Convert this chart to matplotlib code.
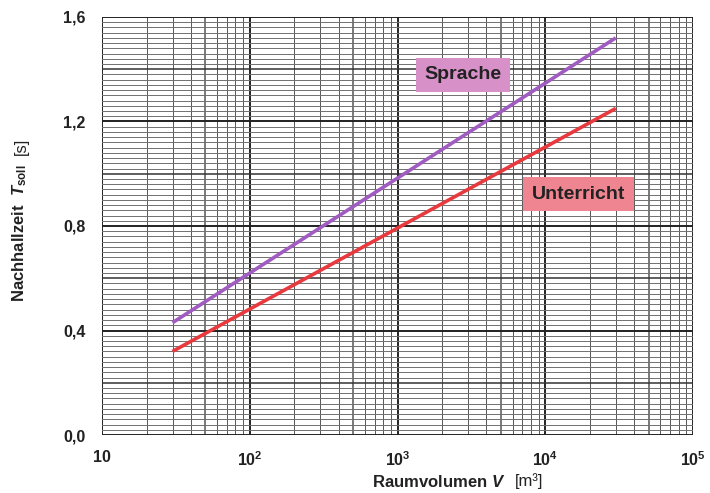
import matplotlib
matplotlib.use("Agg")
import matplotlib.pyplot as plt
from matplotlib.ticker import FixedLocator, NullFormatter

plt.rcParams['font.family'] = ['Liberation Sans', 'DejaVu Sans']
plt.rcParams['mathtext.fontset'] = 'custom'
plt.rcParams['mathtext.rm'] = 'Liberation Sans:bold'
plt.rcParams['mathtext.it'] = 'Liberation Sans:bold:italic'
plt.rcParams['mathtext.bf'] = 'Liberation Sans:bold'

# data (end points of the straight lines)
volumen = [30, 30000]
sprache = [0.43, 1.52]
unterricht = [0.32, 1.25]

x_ticks = [10, 100, 1000, 10000, 100000]
x_labels = ['10', '$10^2$', '$10^3$', '$10^4$', '$10^5$']
y_ticks = [0.0, 0.4, 0.8, 1.2, 1.6]
y_labels = ['0,0', '0,4', '0,8', '1,2', '1,6']

fig = plt.figure(figsize=(7.1, 4.93), dpi=100)
ax = fig.add_axes([0.1437, 0.1176, 0.8324, 0.848])

ax.set_xscale('log')
ax.set_xlim(10, 100000)
ax.set_ylim(0, 1.6)

# grid: decades, fives, other minor
for dec in [10, 100, 1000, 10000]:
    for m in range(2, 10):
        lw = 1.1 if m == 5 else 0.7
        ax.axvline(dec * m, color='#555555', lw=lw, zorder=1)
for d in x_ticks:
    ax.axvline(d, color='#222222', lw=1.4, zorder=1)
for i in range(81):
    y = i * 0.02
    if i % 20 == 0:
        ax.axhline(y, color='#222222', lw=1.4, zorder=1)
    elif i % 10 == 0:
        ax.axhline(y, color='#333333', lw=1.1, zorder=1)
    else:
        ax.axhline(y, color='#707070', lw=0.7, zorder=1)

ax.plot(volumen, sprache, color='#a05cc0', lw=2.6, zorder=3, solid_capstyle='butt')
ax.plot(volumen, unterricht, color='#e83a3e', lw=2.6, zorder=3, solid_capstyle='butt')

ax.text(2775, 1.378, 'Sprache', fontsize=14, fontweight='bold', color='#222222',
        ha='center', va='center', zorder=4,
        bbox=dict(boxstyle='square,pad=0.45', fc='#d890c8', ec='none'))
ax.text(16670, 0.922, 'Unterricht', fontsize=14, fontweight='bold', color='#222222',
        ha='center', va='center', zorder=4,
        bbox=dict(boxstyle='square,pad=0.45', fc='#f08592', ec='none'))

ax.xaxis.set_major_locator(FixedLocator(x_ticks))
ax.xaxis.set_minor_formatter(NullFormatter())
ax.set_xticks(x_ticks, x_labels, fontsize=11.5, fontweight='bold', color='#222222')
ax.set_yticks(y_ticks, y_labels, fontsize=11.5, fontweight='bold', color='#222222')
ax.tick_params(axis='both', which='both', length=0)
ax.tick_params(axis='x', pad=11)
ax.tick_params(axis='y', pad=12)

for s in ax.spines.values():
    s.set_visible(False)

# axis titles: bold part and normal-weight unit
fig.text(372 / 710, 1 - 482 / 493, r'Raumvolumen $V$', fontsize=12, fontweight='bold',
         color='#222222', ha='left', va='center')
fig.text(543 / 710, 1 - 481 / 493, '[m³]', fontsize=12, color='#222222',
         ha='right', va='center')
fig.text(20 / 710, 1 - 302 / 493, r'Nachhallzeit  $T_{\mathrm{soll}}$', fontsize=12,
         fontweight='bold', color='#222222', rotation=90, ha='center', va='bottom')
fig.text(21 / 710, 1 - 138 / 493, '[s]', fontsize=12, color='#222222',
         rotation=90, ha='center', va='top')

fig.savefig('out.png', dpi=100, facecolor='white')
